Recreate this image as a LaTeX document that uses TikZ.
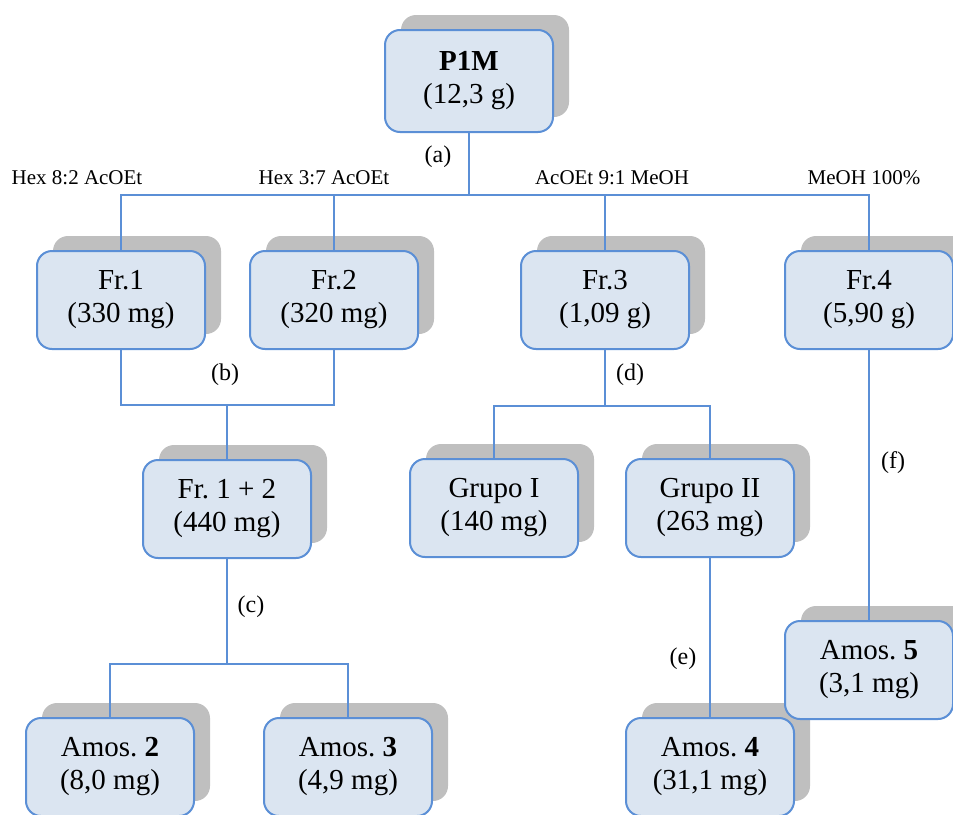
\documentclass[tikz,border=0pt]{standalone}
\usepackage{fontspec}
\setmainfont{Liberation Serif}
\frenchspacing
\usetikzlibrary{shadows}
\definecolor{boxfill}{HTML}{DBE5F1}
\definecolor{boxline}{HTML}{5B8FD6}
\definecolor{shadowgray}{HTML}{BFBFBF}
\begin{document}
\begin{tikzpicture}[x=0.5pt,y=-0.5pt,
  fracbox/.style={draw=boxline, line width=1pt, fill=boxfill, rounded corners=7.5pt,
    minimum width=84pt, minimum height=49pt, align=center, inner sep=0pt,
    font=\fontsize{14.5}{16.5}\selectfont,
    drop shadow={shadow xshift=8pt, shadow yshift=7.5pt, fill=shadowgray, opacity=1}},
  link/.style={draw=boxline, line width=0.8pt},
  steplabel/.style={font=\fontsize{12}{14}\selectfont, inner sep=0pt},
  eluent/.style={font=\fontsize{10.5}{12}\selectfont, inner sep=0pt}]
\useasboundingbox (0,0) rectangle (953,814);

% fractionation tree
\node[fracbox, minimum height=51pt] (p1m) at (469,81) {\textbf{P1M}\\(12,3 g)};
\node[fracbox] (fr1) at (121,300) {Fr.1\\(330 mg)};
\node[fracbox] (fr2) at (334,300) {Fr.2\\(320 mg)};
\node[fracbox] (fr3) at (605,300) {Fr.3\\(1,09 g)};
\node[fracbox] (fr4) at (869,300) {Fr.4\\(5,90 g)};
\node[fracbox] (fr12) at (227,509) {Fr. 1 + 2\\(440 mg)};
\node[fracbox] (g1) at (494,508) {Grupo I\\(140 mg)};
\node[fracbox] (g2) at (710,508) {Grupo II\\(263 mg)};
\node[fracbox] (am2) at (110,767) {Amos. \textbf{2}\\(8,0 mg)};
\node[fracbox] (am3) at (348,767) {Amos. \textbf{3}\\(4,9 mg)};
\node[fracbox] (am4) at (710,767) {Amos. \textbf{4}\\(31,1 mg)};
\node[fracbox] (am5) at (869,670) {Amos. \textbf{5}\\(3,1 mg)};

% junction points
\coordinate (ja) at (469,195);
\coordinate (jb) at (227,405);
\coordinate (jc) at (227,664);
\coordinate (jd) at (605,406);

% connectors
\draw[link] (p1m.south) -- (ja);
\draw[link] (fr1.north) |- (ja) -| (fr4.north);
\draw[link] (fr2.north) -- (fr2.north |- ja);
\draw[link] (fr3.north) -- (fr3.north |- ja);
\draw[link] (fr1.south) |- (jb) -| (fr2.south);
\draw[link] (jb) -- (fr12.north);
\draw[link] (fr12.south) -- (jc);
\draw[link] (am2.north) |- (jc) -| (am3.north);
\draw[link] (fr3.south) -- (jd);
\draw[link] (g1.north) |- (jd) -| (g2.north);
\draw[link] (g2.south) -- (am4.north);
\draw[link] (fr4.south) -- (am5.north);

% step labels
\node[steplabel] (la) at (438,157) {(a)};
\node[steplabel] (lb) at (225,375) {(b)};
\node[steplabel] (lc) at (251,607) {(c)};
\node[steplabel] (ld) at (630,375) {(d)};
\node[steplabel] (le) at (683,659) {(e)};
\node[steplabel] (lf) at (893,463) {(f)};

% eluents
\node[eluent] (e1) at (77,178) {Hex 8:2 AcOEt};
\node[eluent] (e2) at (324,178) {Hex 3:7 AcOEt};
\node[eluent] (e3) at (612,178) {AcOEt 9:1 MeOH};
\node[eluent] (e4) at (864,178) {MeOH 100\%};
\end{tikzpicture}
\end{document}
